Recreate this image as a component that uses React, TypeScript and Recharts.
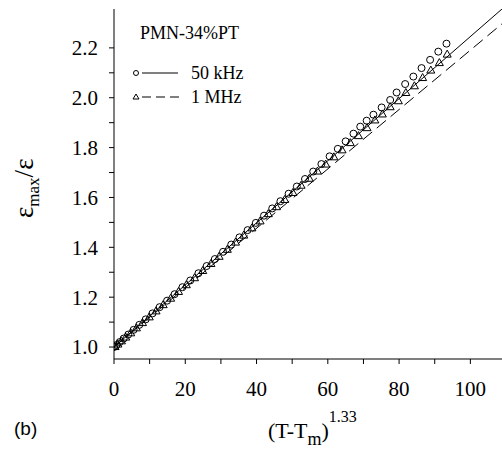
import React from 'react';
import { ScatterChart, Scatter, XAxis, YAxis } from 'recharts';

// measured points, 50 kHz (circles)
const circX = [0, 0.7, 1.6, 2.7, 4.0, 5.5, 7.1, 8.9, 10.8, 12.8, 14.9, 17.0, 19.2, 21.4, 23.7, 26.0, 28.3, 30.6, 32.9, 35.2, 37.5, 39.8, 42.1, 44.4, 46.7, 49.0, 51.3, 53.6, 55.9, 58.2, 60.5, 62.8, 65.0, 67.2, 69.1, 70.9, 72.8, 75.1, 77.5, 79.3, 81.7, 84.0, 86.3, 88.7, 91.0, 93.3];
const circY = [1.0, 1.008, 1.02, 1.034, 1.05, 1.069, 1.089, 1.111, 1.135, 1.16, 1.186, 1.212, 1.24, 1.267, 1.296, 1.325, 1.353, 1.382, 1.411, 1.44, 1.469, 1.498, 1.527, 1.556, 1.585, 1.615, 1.644, 1.674, 1.704, 1.734, 1.765, 1.795, 1.825, 1.856, 1.884, 1.908, 1.932, 1.961, 1.991, 2.021, 2.055, 2.085, 2.119, 2.152, 2.185, 2.217];

// measured points, 1 MHz (triangles)
const triX = [0.3, 1.1, 2.1, 3.3, 4.7, 6.3, 8.0, 9.9, 11.8, 13.8, 15.9, 18.1, 20.3, 22.6, 24.9, 27.2, 29.5, 31.8, 34.1, 36.4, 38.7, 41.0, 43.3, 45.6, 47.9, 50.2, 52.5, 54.8, 57.1, 59.4, 61.7, 64.0, 66.3, 68.6, 71.0, 73.2, 75.3, 77.5, 79.8, 81.9, 84.3, 86.6, 88.9, 91.3, 93.5];
const triY = [1.002, 1.012, 1.025, 1.04, 1.057, 1.077, 1.098, 1.121, 1.145, 1.17, 1.196, 1.223, 1.25, 1.278, 1.307, 1.335, 1.364, 1.392, 1.421, 1.449, 1.478, 1.506, 1.535, 1.563, 1.592, 1.62, 1.649, 1.677, 1.706, 1.734, 1.763, 1.791, 1.82, 1.848, 1.88, 1.911, 1.935, 1.964, 1.988, 2.021, 2.048, 2.081, 2.111, 2.141, 2.175];

// fitted lines
const fitX = [0, 110];
const fit50Y = [1.0, 2.37];
const fit1MY = [1.0, 2.31];

const xTicks = [0, 10, 20, 30, 40, 50, 60, 70, 80, 90, 100];
const xLabels = [0, 20, 40, 60, 80, 100];
const yTicks = [1.0, 1.1, 1.2, 1.3, 1.4, 1.5, 1.6, 1.7, 1.8, 1.9, 2.0, 2.1, 2.2];
const yLabels = ['1.0', '1.2', '1.4', '1.6', '1.8', '2.0', '2.2'];

const toPts = (xs: number[], ys: number[]) => xs.map((x, i) => ({ x, y: ys[i] }));

const serif = '"Liberation Serif", "Times New Roman", serif';

const XTick = (props: any) => {
  const { x, y, payload } = props;
  if (!xLabels.includes(payload.value)) return <g />;
  return (
    <text x={x} y={y} dy="0.71em" textAnchor="middle" fontFamily={serif} fontSize={21} fill="#000">
      {payload.value}
    </text>
  );
};

const YTick = (props: any) => {
  const { x, y, payload } = props;
  const s = Number(payload.value).toFixed(1);
  if (!yLabels.includes(s)) return <g />;
  return (
    <text x={x} y={y} dy="0.35em" textAnchor="end" fontFamily={serif} fontSize={21} fill="#000">
      {s}
    </text>
  );
};

const Circle = (props: any) => (
  <circle cx={props.cx} cy={props.cy} r={3.5} fill="none" stroke="#000" strokeWidth={1} />
);

const Triangle = (props: any) => {
  const { cx, cy } = props;
  return (
    <path d={`M${cx},${cy - 4} L${cx + 4},${cy + 3} L${cx - 4},${cy + 3} Z`} fill="none" stroke="#000" strokeWidth={1} />
  );
};

const NoDot = () => <g />;

export default function App() {
  return (
    <div style={{ position: 'absolute', left: 0, top: 0, width: 502, height: 449, overflow: 'hidden', background: '#fff' }}>
      <ScatterChart width={510} height={449} margin={{ top: 9, right: 4, bottom: 0, left: 0 }}>
        <XAxis
          dataKey="x"
          type="number"
          domain={[0, 110]}
          ticks={xTicks}
          tick={<XTick />}
          tickSize={5}
          tickMargin={17}
          height={90}
          allowDataOverflow
          stroke="#000"
          interval={0}
        />
        <XAxis xAxisId="top" orientation="top" type="number" domain={[0, 110]} height={0} tick={false} tickLine={false} stroke="#000" />
        <YAxis
          dataKey="y"
          type="number"
          domain={[0.952, 2.356]}
          ticks={yTicks}
          tick={<YTick />}
          tickSize={5}
          tickMargin={11}
          width={114}
          allowDataOverflow
          stroke="#000"
          interval={0}
        />
        <Scatter data={toPts(fitX, fit50Y)} shape={<NoDot />} line={{ stroke: '#000', strokeWidth: 1 }} isAnimationActive={false} />
        <Scatter data={toPts(fitX, fit1MY)} shape={<NoDot />} line={{ stroke: '#000', strokeWidth: 1, strokeDasharray: '12 6' }} isAnimationActive={false} />
        <Scatter data={toPts(circX, circY)} shape={<Circle />} isAnimationActive={false} />
        <Scatter data={toPts(triX, triY)} shape={<Triangle />} isAnimationActive={false} />
      </ScatterChart>
      <svg width={502} height={449} style={{ position: 'absolute', left: 0, top: 0, pointerEvents: 'none' }}>
        <text x={140} y={39} fontFamily={serif} fontSize={18} fill="#000">PMN-34%PT</text>
        <circle cx={136} cy={73} r={2.5} fill="none" stroke="#000" />
        <line x1={142} y1={73} x2={178} y2={73} stroke="#000" />
        <text x={191} y={79} fontFamily={serif} fontSize={18} fill="#000">50 kHz</text>
        <path d="M136,94 L139,99 L133,99 Z" fill="none" stroke="#000" />
        <line x1={142} y1={97} x2={180} y2={97} stroke="#000" strokeDasharray="9 5" />
        <text x={191} y={103} fontFamily={serif} fontSize={18} fill="#000">1 MHz</text>
        <text transform="rotate(-90, 33, 218)" x={33} y={218} fontFamily={serif} fontSize={27} fill="#000">
          ε<tspan fontSize={17} dy={6}>max</tspan><tspan dy={-6}>/ε</tspan>
        </text>
        <text x={268} y={438} fontFamily={serif} fontSize={22} fill="#000">
          (T-T<tspan fontSize={18} dy={7}>m</tspan><tspan dy={-7}>)</tspan><tspan fontSize={16} dy={-16}>1.33</tspan>
        </text>
        <text x={14} y={435} fontFamily='"Liberation Sans", Arial, sans-serif' fontSize={19} fill="#000">(b)</text>
      </svg>
    </div>
  );
}
